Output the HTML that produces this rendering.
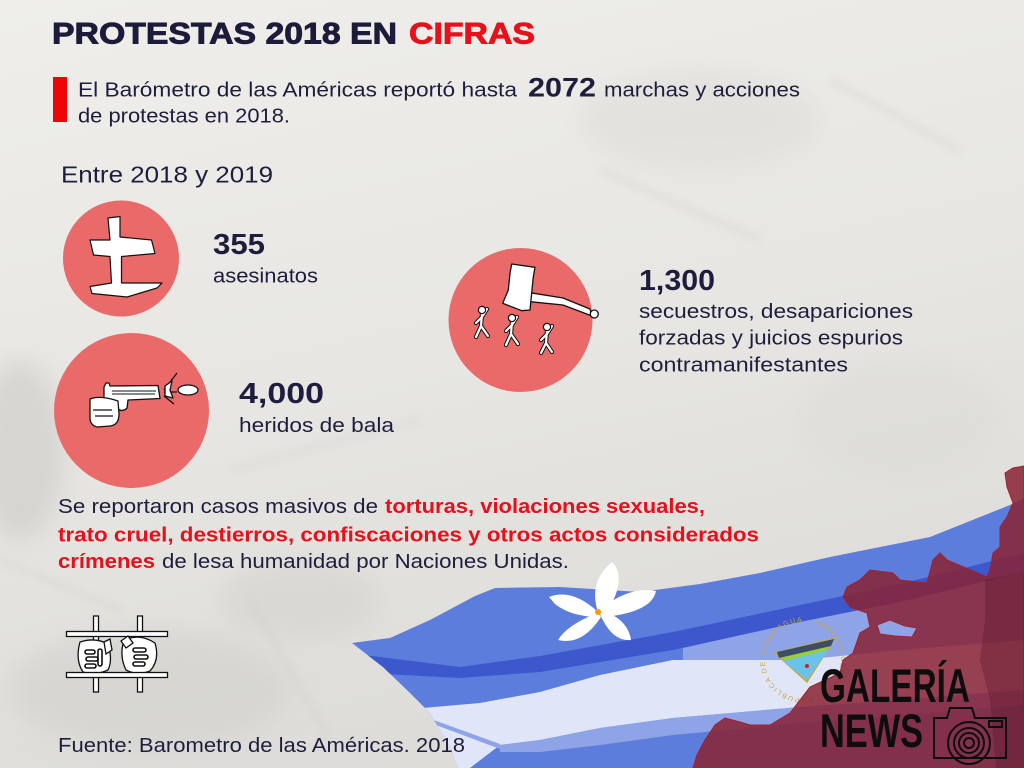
<!DOCTYPE html>
<html><head><meta charset="utf-8"><style>
html,body{margin:0;padding:0;width:1024px;height:768px;overflow:hidden;background:#e8e7e3}
svg{display:block}
text{font-family:"Liberation Sans",sans-serif}
</style></head><body>
<svg width="1024" height="768" viewBox="0 0 1024 768" xmlns="http://www.w3.org/2000/svg">
<defs>
 <linearGradient id="bg" x1="0" y1="0" x2="0.3" y2="1">
  <stop offset="0" stop-color="#efeeea"/>
  <stop offset="0.55" stop-color="#e7e6e2"/>
  <stop offset="1" stop-color="#dddcd8"/>
 </linearGradient>
 <filter id="blur" x="-50%" y="-50%" width="200%" height="200%"><feGaussianBlur stdDeviation="12"/></filter>
 <filter id="blur2" x="-50%" y="-50%" width="200%" height="200%"><feGaussianBlur stdDeviation="4"/></filter>
 <clipPath id="blueclip"><polygon points="352,643 390,638 430,620 475,596 495,588 560,587 640,592 700,584 760,573 830,557 930,537 1010,505 1024,498 1024,768 458,768 450,747 430,713 410,693 383,667"/></clipPath>
 <path id="ring" d="M765,660 a38,38 0 1,1 76,0 a38,38 0 1,1 -76,0"/>
</defs>

<!-- paper -->
<rect width="1024" height="768" fill="url(#bg)"/>
<g filter="url(#blur)" opacity="0.55">
 <ellipse cx="20" cy="450" rx="45" ry="90" fill="#c9c8c4"/>
 <ellipse cx="150" cy="690" rx="140" ry="60" fill="#d0cfcb"/>
 <ellipse cx="300" cy="600" rx="80" ry="40" fill="#d3d2ce"/>
 <ellipse cx="700" cy="120" rx="120" ry="50" fill="#dedcd8"/>
 <ellipse cx="900" cy="420" rx="100" ry="60" fill="#dcdbd7"/>
</g>
<g filter="url(#blur2)" opacity="0.35" fill="none" stroke="#cac9c5" stroke-width="5">
 <path d="M230,470 L420,420"/>
 <path d="M250,600 L330,740"/>
 <path d="M600,170 L760,240"/>
 <path d="M0,560 L120,610"/>
 <path d="M830,80 L960,150"/>
</g>

<!-- Title -->
<text x="52" y="43.5" font-size="30" font-weight="bold" fill="#1d1b3a" stroke="#1d1b3a" stroke-width="0.9" textLength="345" lengthAdjust="spacingAndGlyphs">PROTESTAS 2018 EN</text>
<text x="409" y="43.5" font-size="30" font-weight="bold" fill="#e8101a" stroke="#e8101a" stroke-width="0.9" textLength="126" lengthAdjust="spacingAndGlyphs">CIFRAS</text>

<!-- Paragraph 1 -->
<rect x="53" y="77" width="14" height="45" fill="#ee0606"/>
<text x="78" y="96.5" font-size="20.5" fill="#1f1d3d" textLength="439" lengthAdjust="spacingAndGlyphs">El Barómetro de las Américas reportó hasta</text>
<text x="528" y="96.5" font-size="27" font-weight="bold" fill="#1f1d3d" textLength="68" lengthAdjust="spacingAndGlyphs">2072</text>
<text x="604" y="96.5" font-size="20.5" fill="#1f1d3d" textLength="196" lengthAdjust="spacingAndGlyphs">marchas y acciones</text>
<text x="78" y="122.5" font-size="20.5" fill="#1f1d3d" textLength="212" lengthAdjust="spacingAndGlyphs">de protestas en 2018.</text>

<text x="61" y="182.5" font-size="23" fill="#1f1d3d" textLength="212" lengthAdjust="spacingAndGlyphs">Entre 2018 y 2019</text>

<!-- Circle 1: cross -->
<circle cx="121" cy="258.5" r="58" fill="#e96a69"/>
<polygon points="108,218 120,216.5 120,237 151.5,240 155,253.5 121.5,256.5 121.5,283 162,283 157,288 127,297 92,293.5 90,286.5 111.5,283 110,256.5 93.5,255 90,240 110,240" fill="#fff" stroke="#111" stroke-width="1.2" stroke-linejoin="round"/>
<text x="213" y="254" font-size="29" font-weight="bold" fill="#1f1d3d" textLength="52" lengthAdjust="spacingAndGlyphs">355</text>
<text x="213" y="282.5" font-size="20" fill="#1f1d3d" textLength="105" lengthAdjust="spacingAndGlyphs">asesinatos</text>

<!-- Circle 2: gun -->
<circle cx="131.5" cy="410.5" r="77.5" fill="#e96a69"/>
<g stroke="#111" stroke-width="1.3" stroke-linejoin="round">
 <path d="M104,387 L106,383 L109,383 L110,386 L158,385.5 L160,398.5 L128,400 L127,408 Q122,413 117,408 L117,402 L104,400 Z" fill="#fff"/>
 <path d="M90,399 Q100,395 118,401 L119,414 Q119,425 110,426 L97,427 Q90,425 90,418 Z" fill="#fff"/>
 <path d="M93,410 L112,410 M95,416 L113,416" fill="none"/>
 <path d="M112,391 L156,391 M112,394 L155,394" fill="none" stroke-width="1"/>
 <ellipse cx="188" cy="390" rx="10" ry="5" fill="#fff"/>
 <path d="M164,390 L177,373 M164,392 L177,392 M164,396 L174,404" fill="none"/>
 <path d="M165,386 L172,381 L170,390 L173,398 L165,396 Z" fill="#fff"/>
</g>
<text x="239" y="403" font-size="29" font-weight="bold" fill="#1f1d3d" textLength="85" lengthAdjust="spacingAndGlyphs">4,000</text>
<text x="239" y="432" font-size="20" fill="#1f1d3d" textLength="155" lengthAdjust="spacingAndGlyphs">heridos de bala</text>

<!-- Circle 3: gavel -->
<circle cx="520.5" cy="320" r="72" fill="#e96a69"/>
<g stroke="#111" stroke-width="1.3" stroke-linejoin="round">
 <path d="M530,292.7 L563,298 L590,309 L592,316 L563,305 L530,301.7 Z" fill="#fff"/>
 <circle cx="594.3" cy="314" r="4" fill="#fff"/>
 <polygon points="511.7,264 535,267.3 533.3,276.7 530,310 521.7,310.7 502.7,303.3 508.3,290 510,273.3" fill="#fff"/>
</g>
<g fill="none" stroke-linecap="round" stroke-linejoin="round">
 <g stroke="#111" stroke-width="4.2">
  <path d="M482,314 L481,326 M481,326 L476,337 M481,326 L488,336 M482,317 L476,323 M482,317 L487,309"/>
  <path d="M512,322 L511,334 M511,334 L506,345 M511,334 L518,344 M512,325 L506,331 M512,325 L517,317"/>
  <path d="M547,331 L546,343 M546,343 L541,353 M546,343 L552,352 M547,334 L541,340 M547,334 L552,326"/>
 </g>
 <g stroke="#fff" stroke-width="2.2">
  <path d="M482,314 L481,326 M481,326 L476,337 M481,326 L488,336 M482,317 L476,323 M482,317 L487,309"/>
  <path d="M512,322 L511,334 M511,334 L506,345 M511,334 L518,344 M512,325 L506,331 M512,325 L517,317"/>
  <path d="M547,331 L546,343 M546,343 L541,353 M546,343 L552,352 M547,334 L541,340 M547,334 L552,326"/>
 </g>
</g>
<g fill="#fff" stroke="#111" stroke-width="1.2">
 <circle cx="482" cy="310" r="3.6"/>
 <circle cx="512" cy="318" r="3.6"/>
 <circle cx="547" cy="327" r="3.6"/>
</g>
<text x="639" y="290" font-size="29" font-weight="bold" fill="#1f1d3d" textLength="76" lengthAdjust="spacingAndGlyphs">1,300</text>
<text x="639" y="318" font-size="20" fill="#1f1d3d" textLength="274" lengthAdjust="spacingAndGlyphs">secuestros, desapariciones</text>
<text x="639" y="344.5" font-size="20" fill="#1f1d3d" textLength="264" lengthAdjust="spacingAndGlyphs">forzadas y juicios espurios</text>
<text x="639" y="371.5" font-size="20" fill="#1f1d3d" textLength="209" lengthAdjust="spacingAndGlyphs">contramanifestantes</text>

<!-- Paragraph 2 -->
<text x="58" y="513" font-size="20.5" fill="#1f1d3d" textLength="320" lengthAdjust="spacingAndGlyphs">Se reportaron casos masivos de</text>
<text x="385" y="513" font-size="20.5" font-weight="bold" fill="#e5101c" textLength="320" lengthAdjust="spacingAndGlyphs">torturas, violaciones sexuales,</text>
<text x="58" y="541.5" font-size="20.5" font-weight="bold" fill="#e5101c" textLength="701" lengthAdjust="spacingAndGlyphs">trato cruel, destierros, confiscaciones y otros actos considerados</text>
<text x="58" y="568" font-size="20.5" font-weight="bold" fill="#e5101c" textLength="97" lengthAdjust="spacingAndGlyphs">crímenes</text>
<text x="162" y="568" font-size="20.5" fill="#1f1d3d" textLength="407" lengthAdjust="spacingAndGlyphs">de lesa humanidad por Naciones Unidas.</text>

<!-- Prison bars -->
<g stroke="#111" stroke-width="1.3" fill="#fff">
 <rect x="93.5" y="616" width="5" height="76"/>
 <rect x="137.5" y="616" width="5" height="76"/>
 <rect x="66.5" y="631.5" width="101" height="5"/>
 <path d="M80,642 Q95,637 108,644 Q113,660 108,670 Q95,676 83,672 Q75,660 80,642 Z"/>
 <path d="M104,642 L110,639 L112,650 L106,654 Z"/>
 <path d="M124,640 Q140,633 155,643 Q160,660 150,671 Q137,676 126,670 Q119,656 124,640 Z"/>
 <path d="M121,641 L128,636 L133,643 L126,648 Z"/>
 <rect x="66.5" y="672.5" width="101" height="5"/>
</g>
<g fill="none" stroke="#111" stroke-width="1.6">
 <rect x="85" y="650" width="10" height="4" rx="2"/>
 <rect x="86" y="657" width="12" height="4" rx="2"/>
 <rect x="85" y="664" width="11" height="4" rx="2"/>
 <rect x="98" y="649" width="4" height="17" rx="2"/>
 <rect x="133" y="648" width="13" height="4" rx="2"/>
 <rect x="134" y="655" width="14" height="4" rx="2"/>
 <rect x="133" y="662" width="12" height="4" rx="2"/>
</g>

<!-- Blue flag area -->
<g clip-path="url(#blueclip)">
 <rect x="340" y="480" width="684" height="288" fill="#5d7ddc"/>
 <polygon points="340,652 460,667 540,656 673,632 800,605 900,584 1024,553 1024,572 900,602 800,622 673,650 540,672 460,678 385,674 340,668" fill="#3d58cc"/>
 <polygon points="683,648 800,622 900,602 1024,572 1024,640 900,650 800,660 683,660" fill="#8fa4e7"/>
 <polygon points="400,710 480,703 540,692 600,675 673,660 800,660 900,650 1024,640 1024,690 900,700 800,707 673,718 600,728 540,740 500,745 470,768 400,768" fill="#e0e6f8"/>
 <polygon points="500,745 540,740 600,728 673,718 800,707 900,700 1024,690 1024,705 900,715 800,723 673,735 600,745 540,752 500,752" fill="#8fa4e7"/>
 <polygon points="428,718 500,744 500,749 428,722" fill="#8fa4e7"/>
</g>

<text x="58" y="752" font-size="20" fill="#1f1d3d" textLength="407" lengthAdjust="spacingAndGlyphs">Fuente: Barometro de las Américas. 2018</text>

<!-- Dove -->
<g fill="#fff">
 <path d="M598,612 Q588,582 612,562 Q628,578 606,614 Z"/>
 <path d="M600,610 Q628,586 656,591 Q652,612 604,617 Z"/>
 <path d="M598,612 Q572,588 549,597 L555,604 Q570,616 596,617 Z"/>
 <path d="M598,613 Q568,624 558,640 Q582,646 601,617 Z"/>
 <path d="M600,614 Q612,642 631,640 Q628,620 604,611 Z"/>
</g>
<circle cx="598" cy="612" r="3" fill="#f5a000"/>

<!-- Emblem -->
<text font-size="7" fill="#c9a646" letter-spacing="1.5"><textPath href="#ring" startOffset="2%">NICARAGUA · AMERICA CENTRAL · REPUBLICA DE</textPath></text>
<polygon points="775,653 835,638 807,682" fill="#9acd3a" stroke="#c9a646" stroke-width="1.5"/>
<polygon points="783,661 828,650 807,680" fill="#6cc3ea"/>
<polygon points="777,652 834,639 831,646 779,658" fill="#3c4d66"/>
<circle cx="807" cy="666" r="2" fill="#d0201a"/>

<!-- Red map -->
<path d="M1005,473 L1013,468 L1024,466 L1024,768 L693,768 L697,755 L705,740 L715,725 L725,718 L740,722 L750,725 L770,725 L790,713 L800,700 L810,687 L840,673 L843,660 L853,653 L860,633 L870,627 L867,613 L850,607 L843,597 L847,587 L860,580 L870,570 L893,573 L900,580 L927,583 L933,560 L940,553 L947,560 L987,577 L990,570 L993,553 L1000,547 L1000,527 L1007,517 L1013,503 L1007,487 Z M877,625 L890,620 L905,626 L917,628 L912,637 L895,636 L880,634 Z" fill="#8a2234" fill-opacity="0.85" fill-rule="evenodd" stroke="#a0202e" stroke-width="1"/>
<polygon points="985,580 1024,572 1024,768 996,768 990,700 980,660 985,620" fill="#4e1226" opacity="0.3"/>

<!-- Galeria News logo -->
<text x="820" y="702" font-size="47" font-weight="bold" fill="#0d0d0d" textLength="150" lengthAdjust="spacingAndGlyphs">GALERÍA</text>
<text x="820" y="747" font-size="47" font-weight="bold" fill="#0d0d0d" textLength="103" lengthAdjust="spacingAndGlyphs">NEWS</text>
<g fill="none" stroke="#0d0d0d" stroke-width="2">
 <path d="M934,718 L947,718 L950,708 L972,708 L975,718 L1006,718 L1006,758 L934,758 Z"/>
 <rect x="989" y="721" width="13" height="6"/>
 <circle cx="969" cy="743" r="21"/>
 <circle cx="969" cy="743" r="15"/>
 <circle cx="969" cy="743" r="10"/>
 <circle cx="969" cy="743" r="5"/>
</g>
</svg>
</body></html>
